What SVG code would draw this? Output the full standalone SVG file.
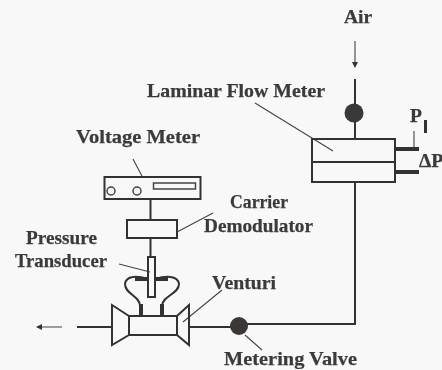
<svg xmlns="http://www.w3.org/2000/svg" width="442" height="370" viewBox="0 0 442 370">
<style>
.l{fill:none;stroke:#333;stroke-width:2}
.m{fill:none;stroke:#444;stroke-width:1.500}
.t{fill:none;stroke:#444;stroke-width:1.100}
.h{fill:none;stroke:#333;stroke-width:4}
text{font-family:"Liberation Serif",serif;font-weight:bold;font-size:19.500px;fill:#3a3a3a;stroke:#3a3a3a;stroke-width:.25}
</style>
<defs><filter id="soft" x="0" y="0" width="100%" height="100%"><feGaussianBlur stdDeviation="0.350"/></filter></defs>
<rect width="442" height="370" fill="#f8f8f8"/>
<g filter="url(#soft)">
<g id="connectors">
<path class="l" d="M355 79V105M355 122V139M355 182V324H245M77 327H112M189 327H232"/>
<path class="l" d="M150.500 199V220M150.500 238V257"/>
<path class="t" d="M355 41V65M37 327H62"/>
<path d="M355 68l-3-6h6zM36 327l6-3v6z" fill="#333"/>
<path class="t" d="M255 103L333 151M133 159L143 178M213 213L177 232M119 264L150 272M222 290L183 322M245 335L262 350M414 131V147"/>
</g>
<g id="air"><text x="344" y="23">Air</text></g>
<g id="laminar-flow-meter">
<text x="147" y="97" textLength="178" lengthAdjust="spacingAndGlyphs">Laminar Flow Meter</text>
<rect class="l" x="312" y="139" width="83" height="43"/>
<path class="l" d="M312 162H395"/>
<path class="h" d="M395 149H419M395 172H419"/>
</g>
<g id="upper-valve"><circle cx="354" cy="113" r="9.500" fill="#3c3838"/></g>
<g id="p1"><text x="410" y="122">P</text><rect x="424" y="120" width="3" height="13" fill="#333"/></g>
<g id="delta-p"><text x="419" y="167">ΔP</text></g>
<g id="voltage-meter">
<text x="76" y="143" textLength="124" lengthAdjust="spacingAndGlyphs">Voltage Meter</text>
<rect class="l" x="104.500" y="177" width="96" height="22"/>
<rect class="m" x="153.500" y="183" width="42" height="6"/>
<circle class="m" cx="111" cy="191" r="4"/>
<circle class="m" cx="137" cy="191" r="4"/>
</g>
<g id="carrier-demodulator">
<text x="230" y="208" textLength="58" lengthAdjust="spacingAndGlyphs">Carrier</text>
<text x="204" y="232" textLength="109" lengthAdjust="spacingAndGlyphs">Demodulator</text>
<rect class="l" x="127" y="220" width="50" height="18"/>
</g>
<g id="pressure-transducer">
<text x="26" y="244" textLength="71" lengthAdjust="spacingAndGlyphs">Pressure</text>
<text x="15" y="267" textLength="92" lengthAdjust="spacingAndGlyphs">Transducer</text>
</g>
<g id="venturi">
<text x="212" y="289" textLength="64" lengthAdjust="spacingAndGlyphs">Venturi</text>
<path class="l" d="M148 279C138 276 126 275 125 284C125 294 140 296 140 306V316M155 279C165 276 178 275 179 284C179 294 162 296 162 306V316"/>
<path class="h" d="M135 279H148M155 279H168M141 304V315M162 304V315"/>
<rect class="l" x="148" y="257" width="7" height="40" fill="#f8f8f8"/>
<rect class="l" x="129" y="316" width="48" height="19"/>
<path class="l" d="M129 316L112 305V345L129 335M177 316L189 305V345L177 335"/>
</g>
<g id="metering-valve">
<circle cx="239" cy="326" r="9" fill="#3c3838"/>
<text x="224" y="365" textLength="133" lengthAdjust="spacingAndGlyphs">Metering Valve</text>
</g>
</g>
</svg>
